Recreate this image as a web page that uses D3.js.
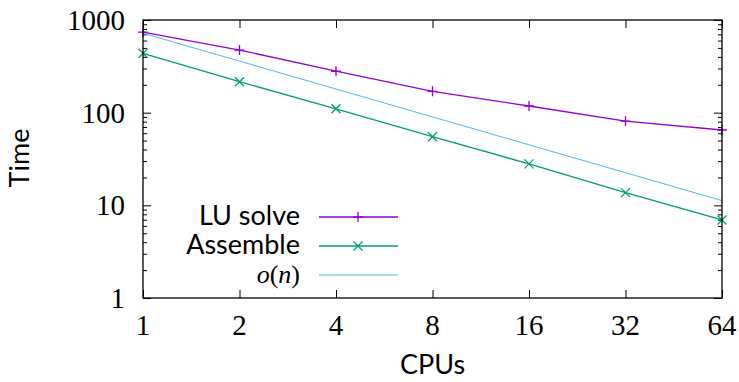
<!DOCTYPE html>
<html>
<head>
<meta charset="utf-8">
<script src="https://cdn.jsdelivr.net/npm/d3@7"></script>
<style>
  body { margin: 0; background: #fff; }
  svg { display: block; }
</style>
</head>
<body>
<svg width="739" height="382"></svg>
<script>
// 数据
var cpus = [1, 2, 4, 8, 16, 32, 64];
var luSolve = [740, 474, 280, 170, 118, 81, 65];
var assemble = [437, 216, 110, 55, 28, 13.7, 6.95];
var oN = [720, 360, 180, 90, 45, 22.5, 11.25];
var yTicks = [1, 10, 100, 1000];
var seriesNames = ["LU solve", "Assemble", "o(n)"];
var seriesColors = ["#9400d3", "#009e73", "#56b4e9"];

var marge = {top: 20, bottom: 84, left: 143, right: 17};
var svg = d3.select("svg");
var width = +svg.attr("width");
var height = +svg.attr("height");
var w = width - marge.left - marge.right;
var h = height - marge.top - marge.bottom;
var g = svg.append("g")
    .attr("transform", "translate(" + marge.left + "," + marge.top + ")");

var xScale = d3.scaleLog().base(2).domain([1, 64]).range([0, w]);
var yScale = d3.scaleLog().domain([1, 1000]).range([h, 0]);

// 次刻度
var minor = [];
yTicks.slice(0, -1).forEach(function (t) {
    for (var k = 2; k <= 9; k++) minor.push(t * k);
});

function tickLine(sel) {
    sel.selectAll("path").remove();
    sel.selectAll("text").remove();
    sel.selectAll("line").attr("stroke", "#000").attr("stroke-width", 1);
}

// 刻度(向内)
g.append("g").attr("transform", "translate(0," + h + ")")
    .call(d3.axisTop(xScale).tickValues(cpus).tickSize(8)).call(tickLine);
g.append("g")
    .call(d3.axisBottom(xScale).tickValues(cpus).tickSize(8)).call(tickLine);
g.append("g")
    .call(d3.axisRight(yScale).tickValues(yTicks).tickSize(8)).call(tickLine);
g.append("g")
    .call(d3.axisRight(yScale).tickValues(minor).tickSize(4)).call(tickLine);
g.append("g").attr("transform", "translate(" + w + ",0)")
    .call(d3.axisLeft(yScale).tickValues(yTicks).tickSize(8)).call(tickLine);
g.append("g").attr("transform", "translate(" + w + ",0)")
    .call(d3.axisLeft(yScale).tickValues(minor).tickSize(4)).call(tickLine);

// 刻度文字
g.selectAll(".xl").data(cpus).enter().append("text")
    .attr("x", function (d) { return xScale(d); })
    .attr("y", h + 37)
    .attr("text-anchor", "middle")
    .attr("font-family", "Liberation Serif, serif")
    .attr("font-size", 29)
    .text(function (d) { return d; });
g.selectAll(".yl").data(yTicks).enter().append("text")
    .attr("x", -18)
    .attr("y", function (d) { return yScale(d); })
    .attr("dy", "0.34em")
    .attr("text-anchor", "end")
    .attr("font-family", "Liberation Serif, serif")
    .attr("font-size", 29)
    .text(function (d) { return d; });

// 坐标轴标题
svg.append("text")
    .attr("transform", "translate(29,158) rotate(-90)")
    .attr("text-anchor", "middle")
    .attr("font-family", "Lato, sans-serif")
    .attr("font-size", 27)
    .text("Time");
svg.append("text")
    .attr("x", marge.left + w / 2)
    .attr("y", 374)
    .attr("text-anchor", "middle")
    .attr("font-family", "Lato, sans-serif")
    .attr("font-size", 27)
    .text("CPUs");

// 折线
var line = d3.line()
    .x(function (d, i) { return xScale(cpus[i]); })
    .y(function (d) { return yScale(d); });
var allSeries = [luSolve, assemble, oN];
allSeries.forEach(function (s, k) {
    g.append("path")
        .attr("d", line(s))
        .attr("fill", "none")
        .attr("stroke", seriesColors[k])
        .attr("stroke-width", k == 2 ? 1 : 1.3);
});

function plus(sel, color) {
    sel.append("path").attr("d", "M-5,0H5M0,-5V5")
        .attr("stroke", color).attr("stroke-width", 1.3).attr("fill", "none");
}
function cross(sel, color) {
    sel.append("path").attr("d", "M-4.5,-4.5L4.5,4.5M-4.5,4.5L4.5,-4.5")
        .attr("stroke", color).attr("stroke-width", 1.3).attr("fill", "none");
}
luSolve.forEach(function (d, i) {
    g.append("g").attr("transform", "translate(" + xScale(cpus[i]) + "," + yScale(d) + ")")
        .call(plus, seriesColors[0]);
});
assemble.forEach(function (d, i) {
    g.append("g").attr("transform", "translate(" + xScale(cpus[i]) + "," + yScale(d) + ")")
        .call(cross, seriesColors[1]);
});

// 边框
g.append("rect")
    .attr("width", w).attr("height", h)
    .attr("fill", "none").attr("stroke", "#000").attr("stroke-width", 1.3);

// 图例
var leg = svg.append("g");
seriesNames.forEach(function (name, k) {
    var ly = 217 + k * 29;
    var t = leg.append("text")
        .attr("x", 300)
        .attr("y", ly + 8)
        .attr("text-anchor", "end")
        .attr("font-size", 27);
    if (k == 2) {
        t.attr("font-family", "Liberation Serif, serif").attr("font-size", 26);
        t.append("tspan").attr("font-style", "italic").text("o");
        t.append("tspan").text("(");
        t.append("tspan").attr("font-style", "italic").text("n");
        t.append("tspan").text(")");
    } else {
        t.attr("font-family", "Lato, sans-serif").text(name);
    }
    leg.append("line")
        .attr("x1", 319).attr("x2", 398)
        .attr("y1", ly).attr("y2", ly)
        .attr("stroke", seriesColors[k])
        .attr("stroke-width", k == 2 ? 1 : 1.3);
    var m = leg.append("g").attr("transform", "translate(358," + ly + ")");
    if (k == 0) plus(m, seriesColors[0]);
    if (k == 1) cross(m, seriesColors[1]);
});
</script>
</body>
</html>
